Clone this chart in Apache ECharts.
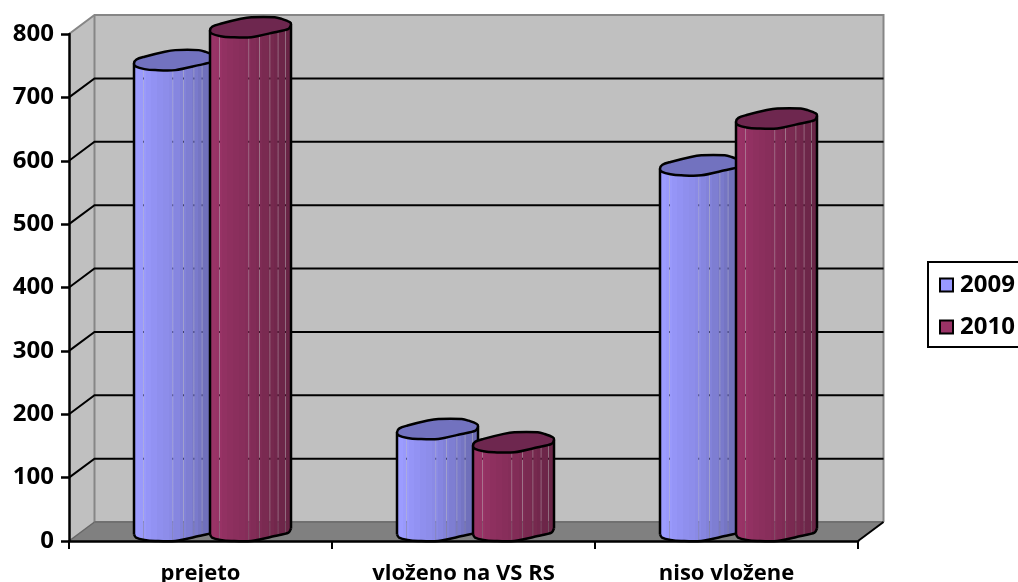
<!DOCTYPE html>
<html>
<head>
<meta charset="utf-8">
<style>html,body{margin:0;padding:0;background:#fff}#chart{width:1018px;height:582px}</style>
<script src="https://cdn.jsdelivr.net/npm/echarts@6/dist/echarts.min.js"></script>
</head>
<body>
<div id="chart"></div>
<script>
const categories = ['prejeto', 'vloženo na VS RS', 'niso vložene'];
const values2009 = [743, 161, 577];
const values2010 = [795, 140, 651];
const tickValues = [0, 100, 200, 300, 400, 500, 600, 700, 800];

// Depth of the 3D box in pixels
const DEPTH_X = 25.5;
const DEPTH_Y = -19;
// Cylinder footprint
const BAR_W = 81;
const LID_H = 20;
// Outline of the lid in unit coordinates, clockwise from the left extreme
const lidOutline = [[0,.67],[.03,.47],[.13,.33],[.38,.08],[.51,0],[.80,0],[.88,.08],[.985,.25],[1,.37],[.97,.58],[.80,.75],[.51,1],[.26,1],[.13,.95],[.025,.83]];
// Front half of the same outline, left to right
const frontEdge = [[0,.67],[.025,.83],[.13,.95],[.26,1],[.51,1],[.80,.75],[.97,.58],[1,.37]];
// Where the facets of the cylinder leave a hairline open
const seams = [0,.12,.48,.61,.74,.84,.93,1];

const palette2009 = {
  lid: '#7272bf',
  bands: ['#9c9cff','#9999fb','#9595f7','#9292f3','#8f8fee','#8d8dea','#8a8ae6','#8686e0','#8282d9','#7e7ed2','#7a7acb','#7575c3','#7070bb','#6c6cb4'],
  swatch: '#9999ff'
};
const palette2010 = {
  lid: '#6e274f',
  bands: ['#993366','#973265','#923162','#8e305f','#8b2f5d','#882e5b','#852d59','#822c57','#7e2b54','#7a2a51','#76294e','#72274c','#6d2649','#692546'],
  swatch: '#993366'
};

function frontV(u) {
  for (let i = 1; i < frontEdge.length; i++) {
    if (u <= frontEdge[i][0]) {
      const a = frontEdge[i - 1], b = frontEdge[i];
      return a[1] + (b[1] - a[1]) * (u - a[0]) / (b[0] - a[0]);
    }
  }
  return frontEdge[frontEdge.length - 1][1];
}

function makeCylinderRenderer(palette, shift) {
  return function (params, api) {
    const cat = api.value(0);
    const top = api.coord([cat, api.value(1)]);
    const base = api.coord([cat, 0]);
    const left = top[0] + shift * api.size([1, 0])[0];
    const px = u => left + u * BAR_W;
    const edgeY = (frontY, u) => frontY - LID_H * (1 - frontV(u));

    const n = palette.bands.length;
    const stops = [];
    palette.bands.forEach((c, i) => {
      stops.push({ offset: i / n, color: c }, { offset: (i + 1) / n, color: c });
    });
    const fill = new echarts.graphic.LinearGradient(left, 0, left + BAR_W, 0, stops, true);

    const children = [];
    for (let s = 0; s < seams.length - 1; s++) {
      const u0 = seams[s] + (s ? 0.0025 : 0);
      const u1 = seams[s + 1] - (s < seams.length - 2 ? 0.0025 : 0);
      const us = [u0];
      frontEdge.forEach(p => { if (p[0] > u0 && p[0] < u1) us.push(p[0]); });
      us.push(u1);
      const pts = us.map(u => [px(u), edgeY(base[1], u)]);
      us.slice().reverse().forEach(u => pts.push([px(u), edgeY(top[1], u)]));
      children.push({ type: 'polygon', shape: { points: pts }, style: { fill: fill } });
    }
    const stroke = { stroke: '#000', lineWidth: 2.5, fill: 'none' };
    children.push({ type: 'polyline',
      shape: { points: frontEdge.map(p => [px(p[0]), edgeY(base[1], p[0])]), smooth: 0.3 },
      style: stroke });
    children.push({ type: 'line', shape: { x1: px(0), y1: edgeY(top[1], 0), x2: px(0), y2: edgeY(base[1], 0) }, style: stroke });
    children.push({ type: 'line', shape: { x1: px(1), y1: edgeY(top[1], 1), x2: px(1), y2: edgeY(base[1], 1) }, style: stroke });
    children.push({ type: 'polygon',
      shape: { points: lidOutline.map(p => [px(p[0]), top[1] - LID_H + p[1] * LID_H]), smooth: 0.3 },
      style: { fill: palette.lid, stroke: '#000', lineWidth: 2.5 } });
    return { type: 'group', children: children };
  };
}

function renderBox(params, api) {
  const sys = params.coordSys;
  const x0 = sys.x, x1 = sys.x + sys.width;
  const y = api.coord([0, api.value(0)])[1];
  const children = [];
  if (params.dataIndex === 0) {
    const yTop = sys.y, yBot = sys.y + sys.height;
    children.push({ type: 'polygon',
      shape: { points: [[x0 + DEPTH_X, yTop + DEPTH_Y], [x1 + DEPTH_X, yTop + DEPTH_Y], [x1 + DEPTH_X, yBot + DEPTH_Y], [x0 + DEPTH_X, yBot + DEPTH_Y]] },
      style: { fill: '#c0c0c0' } });
    children.push({ type: 'polygon',
      shape: { points: [[x0, yTop], [x0 + DEPTH_X, yTop + DEPTH_Y], [x0 + DEPTH_X, yBot + DEPTH_Y], [x0, yBot]] },
      style: { fill: '#c0c0c0' } });
    children.push({ type: 'polygon',
      shape: { points: [[x0, yBot], [x0 + DEPTH_X, yBot + DEPTH_Y], [x1 + DEPTH_X, yBot + DEPTH_Y], [x1, yBot]] },
      style: { fill: '#808080' } });
    children.push({ type: 'polyline',
      shape: { points: [[x0, yTop], [x0 + DEPTH_X, yTop + DEPTH_Y], [x1 + DEPTH_X, yTop + DEPTH_Y], [x1 + DEPTH_X, yBot + DEPTH_Y]] },
      style: { stroke: '#868686', lineWidth: 2, fill: 'none' } });
    children.push({ type: 'line',
      shape: { x1: x0 + DEPTH_X, y1: yTop + DEPTH_Y, x2: x0 + DEPTH_X, y2: yBot + DEPTH_Y },
      style: { stroke: '#868686', lineWidth: 2 } });
    children.push({ type: 'line',
      shape: { x1: x0, y1: yBot, x2: x0 + DEPTH_X, y2: yBot + DEPTH_Y },
      style: { stroke: '#666', lineWidth: 1.5 } });
    children.push({ type: 'line',
      shape: { x1: x0 + DEPTH_X, y1: yBot + DEPTH_Y, x2: x1 + DEPTH_X, y2: yBot + DEPTH_Y },
      style: { stroke: '#707070', lineWidth: 2 } });
    children.push({ type: 'line',
      shape: { x1: x1, y1: yBot, x2: x1 + DEPTH_X, y2: yBot + DEPTH_Y },
      style: { stroke: '#000', lineWidth: 2 } });
  } else if (api.value(0) < 800) {
    children.push({ type: 'polyline',
      shape: { points: [[x0, y], [x0 + DEPTH_X, y + DEPTH_Y], [x1 + DEPTH_X, y + DEPTH_Y]] },
      style: { stroke: '#000', lineWidth: 2, fill: 'none' } });
  }
  return { type: 'group', children: children };
}

const axisFont = { fontFamily: '"Open Sans"', fontWeight: 'bold', color: '#000' };
const chart = echarts.init(document.getElementById('chart'), null, { renderer: 'canvas' });
chart.setOption({
  animation: false,
  backgroundColor: '#fff',
  grid: { left: 69, right: 160, top: 34, bottom: 41, outerBoundsMode: 'none' },
  xAxis: {
    type: 'category',
    data: categories,
    axisLine: { lineStyle: { color: '#000', width: 2.5 } },
    axisTick: { show: true, alignWithLabel: false, length: 8, lineStyle: { color: '#000', width: 2 } },
    axisLabel: { ...axisFont, fontSize: 22, margin: 22 },
    z: 5
  },
  yAxis: {
    type: 'value',
    min: 0,
    max: 800,
    interval: 100,
    splitLine: { show: false },
    axisLine: { show: true, lineStyle: { color: '#000', width: 2.5 } },
    axisTick: { show: true, length: 8, lineStyle: { color: '#000', width: 2.5 } },
    axisLabel: { ...axisFont, fontSize: 24, margin: 15 },
    z: 5
  },
  legend: {
    orient: 'vertical',
    left: 928,
    top: 262,
    padding: [11, 20, 8, 11],
    itemWidth: 13,
    itemHeight: 13,
    itemGap: 18,
    icon: 'rect',
    borderColor: '#000',
    borderWidth: 2,
    backgroundColor: '#fff',
    textStyle: { ...axisFont, fontSize: 24, padding: [0, 0, 0, 2] },
    data: [
      { name: '2009', itemStyle: { color: palette2009.swatch, borderColor: '#000', borderWidth: 2 } },
      { name: '2010', itemStyle: { color: palette2010.swatch, borderColor: '#000', borderWidth: 2 } }
    ]
  },
  series: [
    {
      name: 'box', type: 'custom', coordinateSystem: 'cartesian2d', clip: false, silent: true, z: 1,
      renderItem: renderBox,
      data: tickValues.map(v => [v]),
      encode: { y: 0 }
    },
    {
      name: '2009', type: 'custom', coordinateSystem: 'cartesian2d', clip: false, z: 2,
      itemStyle: { color: palette2009.swatch },
      renderItem: makeCylinderRenderer(palette2009, -66.5 / 263),
      data: values2009.map((v, i) => [i, v]),
      encode: { x: 0, y: 1 }
    },
    {
      name: '2010', type: 'custom', coordinateSystem: 'cartesian2d', clip: false, z: 3,
      itemStyle: { color: palette2010.swatch },
      renderItem: makeCylinderRenderer(palette2010, 9.5 / 263),
      data: values2010.map((v, i) => [i, v]),
      encode: { x: 0, y: 1 }
    }
  ]
});
</script>
</body>
</html>
